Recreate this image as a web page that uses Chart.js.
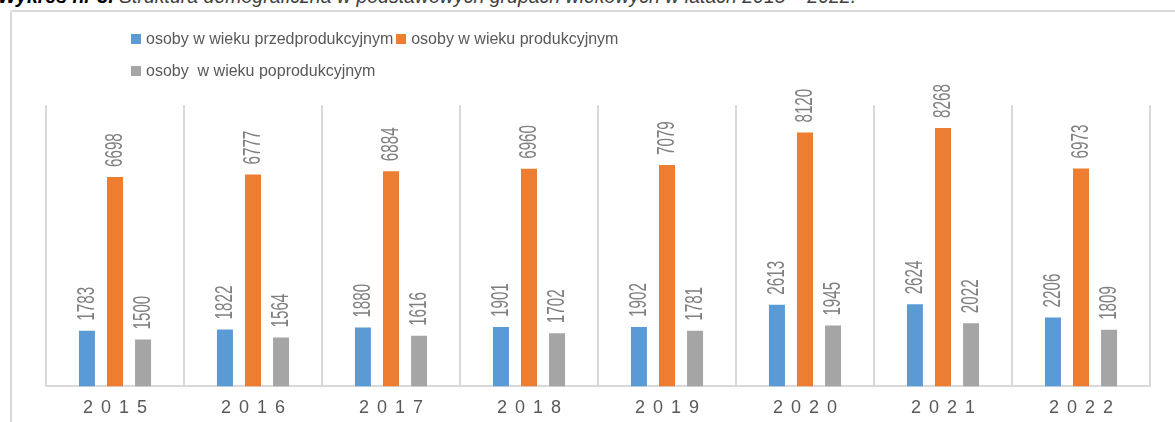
<!DOCTYPE html>
<html>
<head>
<meta charset="utf-8">
<script src="https://cdn.jsdelivr.net/npm/chart.js@4.4.0/dist/chart.umd.min.js"></script>
<style>
    body { margin: 0; background: #ffffff; }
    #wrap { position: relative; width: 1175px; height: 422px; overflow: hidden; }
    #title {
        position: absolute; left: -2px; top: -15px; white-space: nowrap;
        font-family: "Liberation Sans", sans-serif; font-size: 19.5px; font-style: italic; color: #404040;
    }
    #title b { color: #000000; }
    #frame {
        position: absolute; left: 10px; top: 10px; width: 1200px; height: 440px;
        border-top: 2px solid #d9d9d9; border-left: 2px solid #d9d9d9; border-radius: 3px 0 0 0;
    }
    #legend { position: absolute; left: 131px; top: 30px; font-family: "Liberation Sans", sans-serif; font-size: 16px; color: #595959; }
    .row { height: 32px; white-space: pre; }
    .item { display: inline-block; margin-right: 3px; }
    .box { display: inline-block; width: 10px; height: 10px; margin-right: 5px; }
    canvas { position: absolute; left: 0; top: 0; }
</style>
</head>
<body>
<div id="wrap">
    <div id="title"><b>Wykres nr 3.</b> Struktura demograficzna w podstawowych grupach wiekowych w latach 2015 – 2022.</div>
    <div id="frame"></div>
    <canvas id="chart-demo" width="1175" height="430"></canvas>
    <div id="legend"></div>
</div>
<script>
"use strict";

// lata
let years = ["2015", "2016", "2017", "2018", "2019", "2020", "2021", "2022"];

// nazwy serii
let seriesNames = ["osoby w wieku przedprodukcyjnym", "osoby w wieku produkcyjnym", "osoby  w wieku poprodukcyjnym"];

// wartosci
let przedprodukcyjny = [1783, 1822, 1880, 1901, 1902, 2613, 2624, 2206];
let produkcyjny = [6698, 6777, 6884, 6960, 7079, 8120, 8268, 6973];
let poprodukcyjny = [1500, 1564, 1616, 1702, 1781, 1945, 2022, 1809];

let colors = ["#5b9bd5", "#ed7d31", "#a5a5a5"];
let allValues = [przedprodukcyjny, produkcyjny, poprodukcyjny];

// legenda w HTML (dwa wiersze jak w oryginale)
let legendRows = [[0, 1], [2]];
let legend = document.getElementById("legend");
for (let r = 0; r < legendRows.length; r++) {
    let row = document.createElement("div");
    row.className = "row";
    for (let k = 0; k < legendRows[r].length; k++) {
        let i = legendRows[r][k];
        let item = document.createElement("span");
        item.className = "item";
        item.innerHTML = "<span class='box' style='background:" + colors[i] + "'></span>" + seriesNames[i];
        row.appendChild(item);
    }
    legend.appendChild(row);
}

// etykiety wartosci obrocone o 90 stopni
let valueLabels = {
    id: "valueLabels",
    afterDatasetsDraw(chart) {
        let ctx = chart.ctx;
        chart.data.datasets.forEach(function (ds, di) {
            let meta = chart.getDatasetMeta(di);
            meta.data.forEach(function (bar, i) {
                ctx.save();
                ctx.letterSpacing = "0px";
                ctx.translate(bar.x + 1, bar.y - 10);
                ctx.rotate(-Math.PI / 2);
                ctx.scale(0.66, 1);
                ctx.font = "23px 'Liberation Sans'";
                ctx.fillStyle = "#7f7f7f";
                ctx.textAlign = "left";
                ctx.textBaseline = "middle";
                ctx.fillText(String(ds.data[i]), 0, 0);
                ctx.restore();
            });
        });
    }
};

// rozstrzelone etykiety osi X
let spacedTicks = {
    id: "spacedTicks",
    beforeDraw(chart) {
        chart.ctx.letterSpacing = "8px";
    },
    afterDraw(chart) {
        chart.ctx.letterSpacing = "0px";
    }
};

let datasets = [];
for (let i = 0; i < allValues.length; i++) {
    datasets.push({
        "label": seriesNames[i],
        "data": allValues[i],
        "backgroundColor": colors[i],
        "categoryPercentage": 0.61,
        "barPercentage": 0.57
    });
}

let canvas = document.getElementById("chart-demo");
let myChart = new Chart(canvas, {
    "type": "bar",
    "data": {
        "labels": years,
        "datasets": datasets
    },
    "options": {
        responsive: false,
        animation: false,
        layout: { padding: { left: 46, right: 25, top: 105, bottom: 0 } },
        plugins: {
            legend: { display: false },
            tooltip: { enabled: false }
        },
        scales: {
            x: {
                grid: { color: "#d9d9d9", lineWidth: 2, drawTicks: false },
                border: { color: "#d9d9d9", width: 2 },
                ticks: {
                    padding: 11,
                    labelOffset: 4,
                    color: "#595959",
                    font: { family: "'Liberation Sans'", size: 18 }
                }
            },
            y: {
                display: false,
                min: 0,
                max: 9000
            }
        }
    },
    plugins: [valueLabels, spacedTicks]
});
</script>
</body>
</html>
